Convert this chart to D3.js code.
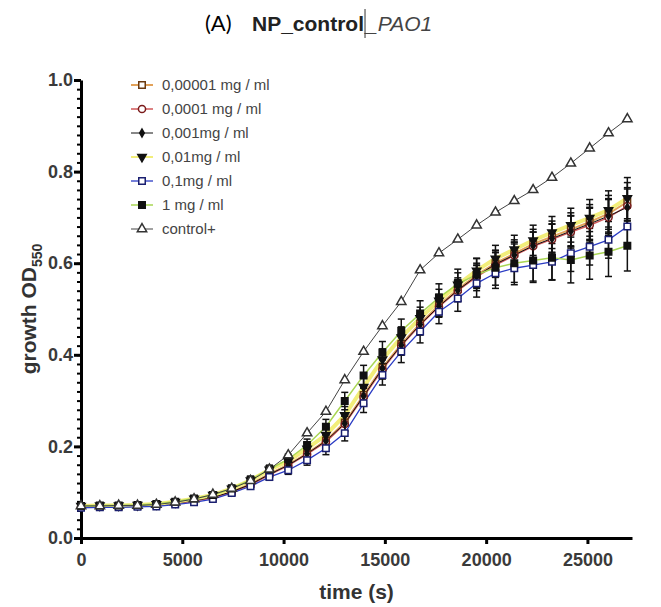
<!DOCTYPE html>
<html>
<head>
<meta charset="utf-8">
<script src="https://cdn.jsdelivr.net/npm/d3@7"></script>
<style>
  body { margin: 0; background: #fff; }
  svg { display: block; }
</style>
</head>
<body>
<div id="chart"></div>
<script>
// time points (s)
var times = [0, 930, 1860, 2790, 3720, 4650, 5580, 6510, 7440, 8370, 9300, 10230, 11160, 12090, 13020,
             13950, 14880, 15810, 16740, 17670, 18600, 19530, 20460, 21390, 22320, 23250, 24180, 25110, 26040, 26970];

var labels = ["0,00001 mg / ml", "0,0001 mg / ml", "0,001mg / ml", "0,01mg / ml", "0,1mg / ml", "1 mg / ml", "control+"];

var v00001 = [0.068, 0.069, 0.069, 0.070, 0.072, 0.076, 0.082, 0.089, 0.101, 0.118, 0.140, 0.160, 0.185, 0.213, 0.252,
              0.312, 0.372, 0.423, 0.468, 0.508, 0.543, 0.574, 0.600, 0.621, 0.642, 0.658, 0.674, 0.690, 0.708, 0.734];
var v0001  = [0.068, 0.069, 0.069, 0.070, 0.071, 0.075, 0.081, 0.088, 0.100, 0.116, 0.138, 0.158, 0.183, 0.210, 0.249,
              0.308, 0.368, 0.420, 0.465, 0.505, 0.540, 0.570, 0.596, 0.617, 0.637, 0.652, 0.668, 0.683, 0.700, 0.725];
var v001   = [0.069, 0.070, 0.070, 0.070, 0.072, 0.076, 0.082, 0.089, 0.101, 0.117, 0.139, 0.159, 0.184, 0.212, 0.250,
              0.310, 0.370, 0.421, 0.466, 0.506, 0.541, 0.572, 0.598, 0.618, 0.638, 0.654, 0.670, 0.686, 0.703, 0.722];
var v01    = [0.070, 0.071, 0.071, 0.072, 0.074, 0.079, 0.086, 0.094, 0.108, 0.126, 0.149, 0.168, 0.195, 0.225, 0.268,
              0.330, 0.390, 0.438, 0.480, 0.518, 0.553, 0.584, 0.610, 0.630, 0.650, 0.667, 0.683, 0.699, 0.716, 0.742];
var v1     = [0.066, 0.067, 0.067, 0.068, 0.069, 0.073, 0.078, 0.085, 0.098, 0.113, 0.133, 0.148, 0.170, 0.196, 0.229,
              0.294, 0.356, 0.407, 0.451, 0.494, 0.523, 0.556, 0.578, 0.589, 0.596, 0.603, 0.622, 0.636, 0.651, 0.680];
var v10    = [0.070, 0.071, 0.071, 0.072, 0.074, 0.079, 0.086, 0.094, 0.108, 0.127, 0.150, 0.172, 0.203, 0.243, 0.299,
              0.355, 0.405, 0.452, 0.490, 0.525, 0.555, 0.575, 0.590, 0.600, 0.606, 0.612, 0.607, 0.617, 0.625, 0.638];
var vCtrl  = [0.070, 0.070, 0.071, 0.071, 0.073, 0.078, 0.085, 0.095, 0.108, 0.125, 0.150, 0.181, 0.229, 0.276, 0.345,
              0.407, 0.463, 0.516, 0.585, 0.622, 0.652, 0.683, 0.711, 0.736, 0.760, 0.787, 0.818, 0.851, 0.884, 0.915];

// error bars (sd)
var e00001 = [0.004, 0.003, 0.003, 0.003, 0.004, 0.004, 0.005, 0.005, 0.006, 0.007, 0.008, 0.010, 0.012, 0.015, 0.018,
              0.020, 0.022, 0.022, 0.022, 0.024, 0.025, 0.026, 0.028, 0.030, 0.032, 0.034, 0.036, 0.038, 0.040, 0.042];
var e0001  = [0.003, 0.003, 0.003, 0.003, 0.003, 0.004, 0.004, 0.005, 0.006, 0.007, 0.008, 0.009, 0.011, 0.014, 0.017,
              0.019, 0.021, 0.021, 0.022, 0.023, 0.024, 0.025, 0.027, 0.029, 0.031, 0.033, 0.035, 0.037, 0.039, 0.040];
var e001   = [0.003, 0.003, 0.003, 0.003, 0.003, 0.004, 0.004, 0.005, 0.005, 0.006, 0.007, 0.009, 0.011, 0.013, 0.016,
              0.018, 0.020, 0.020, 0.021, 0.022, 0.023, 0.024, 0.026, 0.028, 0.030, 0.032, 0.034, 0.036, 0.038, 0.040];
var e01    = [0.004, 0.004, 0.004, 0.004, 0.004, 0.005, 0.005, 0.006, 0.007, 0.008, 0.009, 0.011, 0.013, 0.016, 0.019,
              0.021, 0.023, 0.023, 0.024, 0.025, 0.026, 0.027, 0.029, 0.031, 0.033, 0.035, 0.037, 0.040, 0.042, 0.045];
var e1     = [0.003, 0.003, 0.003, 0.003, 0.003, 0.004, 0.004, 0.005, 0.005, 0.006, 0.007, 0.009, 0.011, 0.014, 0.017,
              0.020, 0.022, 0.024, 0.025, 0.026, 0.028, 0.030, 0.033, 0.036, 0.038, 0.040, 0.040, 0.040, 0.040, 0.040];
var e10    = [0.004, 0.004, 0.004, 0.004, 0.004, 0.005, 0.005, 0.006, 0.007, 0.008, 0.009, 0.011, 0.013, 0.016, 0.019,
              0.022, 0.024, 0.026, 0.028, 0.030, 0.032, 0.035, 0.038, 0.042, 0.045, 0.048, 0.050, 0.052, 0.054, 0.055];

var xTicks = [0, 5000, 10000, 15000, 20000, 25000];
var yTicks = [0.0, 0.2, 0.4, 0.6, 0.8, 1.0];

var W = 661, H = 607;

var svg = d3.select("#chart").append("svg")
    .attr("width", W)
    .attr("height", H);

var x = d3.scaleLinear().domain([0, 27200]).range([81, 632]);
var y = d3.scaleLinear().domain([0, 1]).range([538, 80]);

var series = [
    {name: labels[0], v: v00001, e: e00001, line: "#e2a25a", lw: 2,   sym: d3.symbolSquare,   size: 42, fill: "#fff",    stroke: "#6b3a10"},
    {name: labels[1], v: v0001,  e: e0001,  line: "#d0585a", lw: 1.5, sym: d3.symbolCircle,   size: 40, fill: "#fff",    stroke: "#7a1a1a"},
    {name: labels[2], v: v001,   e: e001,   line: "#111",    lw: 1,   sym: d3.symbolDiamond,  size: 18, fill: "#111",    stroke: "#111"},
    {name: labels[3], v: v01,    e: e01,    line: "#f2ee7a", lw: 4,   sym: d3.symbolTriangle, size: 30, fill: "#111",    stroke: "#111", flip: true},
    {name: labels[4], v: v1,     e: e1,     line: "#2b3cc4", lw: 1.3, sym: d3.symbolSquare,   size: 42, fill: "#fff",    stroke: "#1a1f70"},
    {name: labels[5], v: v10,    e: e10,    line: "#a9d653", lw: 1.5, sym: d3.symbolSquare,   size: 42, fill: "#111",    stroke: "#111"},
    {name: labels[6], v: vCtrl,  e: null,   line: "#444",    lw: 1,   sym: d3.symbolTriangle, size: 38, fill: "#fff",    stroke: "#333"}
];

// axes
var xAxis = svg.append("g")
    .attr("transform", "translate(0," + y(0) + ")")
    .call(d3.axisBottom(x).tickValues(xTicks).tickSize(6).tickSizeOuter(0).tickFormat(d3.format("d")));
xAxis.select(".domain").attr("stroke-width", 3);
xAxis.selectAll(".tick line").attr("stroke-width", 3);
xAxis.selectAll("text")
    .attr("dy", "1.05em")
    .style("font-family", "'Liberation Sans', Arial, sans-serif")
    .style("font-size", "18px")
    .style("font-weight", "bold")
    .attr("fill", "#3a3a3a");

var yMinor = svg.append("g")
    .attr("transform", "translate(" + x(0) + ",0)")
    .call(d3.axisLeft(y).tickValues(d3.range(0, 1.0001, 0.02)).tickSize(4).tickSizeOuter(0).tickFormat(""));
yMinor.select(".domain").remove();
yMinor.selectAll(".tick line").attr("stroke-width", 2);

var yAxis = svg.append("g")
    .attr("transform", "translate(" + x(0) + ",0)")
    .call(d3.axisLeft(y).tickValues(yTicks).tickSize(7).tickSizeOuter(0).tickFormat(d3.format(".1f")));
yAxis.select(".domain").attr("stroke-width", 3);
yAxis.selectAll(".tick line").attr("stroke-width", 3);
yAxis.selectAll("text")
    .attr("x", -8)
    .style("font-family", "'Liberation Sans', Arial, sans-serif")
    .style("font-size", "18px")
    .style("font-weight", "bold")
    .attr("fill", "#3a3a3a");

// axis titles
svg.append("text")
    .attr("x", (x(0) + x(27200)) / 2)
    .attr("y", 599)
    .attr("text-anchor", "middle")
    .style("font-family", "'Liberation Sans', Arial, sans-serif")
    .style("font-size", "21px")
    .style("font-weight", "bold")
    .attr("fill", "#333")
    .text("time (s)");

var yt = svg.append("text")
    .attr("transform", "translate(36," + ((y(0) + y(1)) / 2) + ") rotate(-90)")
    .attr("text-anchor", "middle")
    .style("font-family", "'Liberation Sans', Arial, sans-serif")
    .style("font-size", "21px")
    .style("font-weight", "bold")
    .attr("fill", "#333");
yt.append("tspan").text("growth OD");
yt.append("tspan").attr("dy", 6).style("font-size", "14px").text("550");

// lines
var line = d3.line()
    .x(function(d, i) { return x(times[i]); })
    .y(function(d) { return y(d); });

var plot = svg.append("g");

series.forEach(function(s) {
    plot.append("path")
        .datum(s.v)
        .attr("fill", "none")
        .attr("stroke", s.line)
        .attr("stroke-width", s.lw)
        .attr("d", line);
});

// error bars
series.forEach(function(s) {
    if (!s.e) return;
    var g = plot.append("g").attr("stroke", "#111").attr("stroke-width", 1.5);
    s.v.forEach(function(d, i) {
        var cx = x(times[i]);
        var lo = y(d - s.e[i]), hi = y(d + s.e[i]);
        g.append("line").attr("x1", cx).attr("x2", cx).attr("y1", lo).attr("y2", hi);
        g.append("line").attr("x1", cx - 3.5).attr("x2", cx + 3.5).attr("y1", lo).attr("y2", lo);
        g.append("line").attr("x1", cx - 3.5).attr("x2", cx + 3.5).attr("y1", hi).attr("y2", hi);
    });
});

// markers
series.forEach(function(s) {
    plot.append("g").selectAll("path")
        .data(s.v)
        .join("path")
        .attr("transform", function(d, i) {
            return "translate(" + x(times[i]) + "," + y(d) + ")" + (s.flip ? " rotate(180)" : "");
        })
        .attr("d", d3.symbol().type(s.sym).size(s.size))
        .attr("fill", s.fill)
        .attr("stroke", s.stroke)
        .attr("stroke-width", 1.5);
});

// legend
var legend = svg.append("g");
series.forEach(function(s, i) {
    var ly = 85 + i * 24;
    legend.append("line")
        .attr("x1", 131).attr("x2", 153)
        .attr("y1", ly).attr("y2", ly)
        .attr("stroke", s.line)
        .attr("stroke-width", Math.min(s.lw, 2));
    legend.append("path")
        .attr("transform", "translate(142," + ly + ")" + (s.flip ? " rotate(180)" : ""))
        .attr("d", d3.symbol().type(s.sym).size(s.size))
        .attr("fill", s.fill)
        .attr("stroke", s.stroke)
        .attr("stroke-width", 1.5);
    legend.append("text")
        .attr("x", 162)
        .attr("y", ly)
        .attr("dy", "0.35em")
        .style("font-family", "'Liberation Sans', Arial, sans-serif")
        .style("font-size", "15px")
        .attr("fill", "#444")
        .text(s.name);
});

// title
var t1 = svg.append("text")
    .attr("x", 205).attr("y", 31)
    .style("font-family", "Lato, 'Open Sans', sans-serif")
    .style("font-size", "22px")
    .attr("fill", "#000")
    .text("(A)");
var t2 = svg.append("text")
    .attr("x", 252).attr("y", 31)
    .style("font-family", "'Liberation Sans', Arial, sans-serif")
    .style("font-size", "21px")
    .style("font-weight", "bold")
    .attr("fill", "#222")
    .text("NP_control");
var w2 = t2.node().getComputedTextLength();
svg.append("line")
    .attr("x1", 252 + w2 + 1).attr("x2", 252 + w2 + 1)
    .attr("y1", 9).attr("y2", 38)
    .attr("stroke", "#333").attr("stroke-width", 1);
svg.append("text")
    .attr("x", 252 + w2 + 2).attr("y", 31)
    .style("font-family", "'Liberation Sans', Arial, sans-serif")
    .style("font-size", "21px")
    .style("font-style", "italic")
    .attr("fill", "#444")
    .text("_PAO1");
</script>
</body>
</html>
